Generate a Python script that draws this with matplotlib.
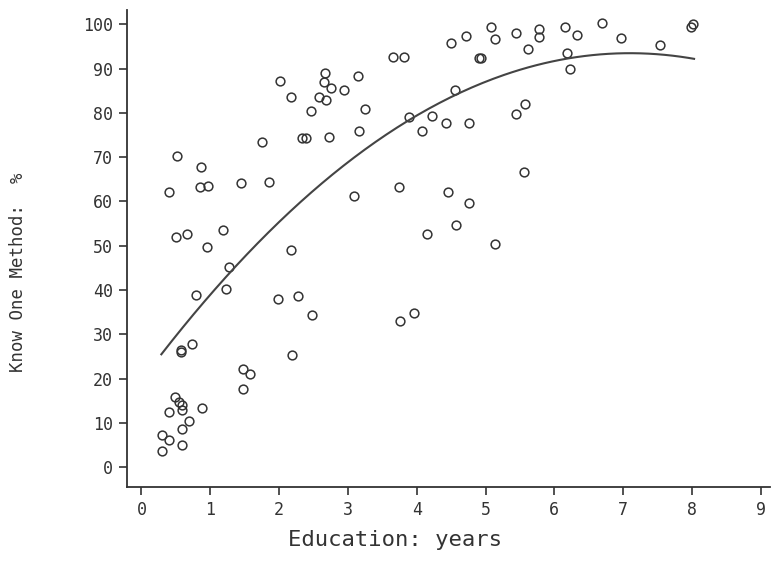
import matplotlib
matplotlib.use("Agg")
import matplotlib.pyplot as plt
import numpy as np

# ── Data ─────────────────────────────────────────────────────────────────────
edu_years = [
    0.30, 0.40, 0.30, 0.59, 0.59, 0.69, 0.40, 0.59, 0.54, 0.59, 0.49, 0.88,
    0.58, 0.58, 0.73, 1.47, 1.58, 1.47, 2.19, 0.80, 1.23, 1.27, 0.96, 0.50,
    0.66, 1.18, 0.40, 0.85, 0.97, 1.45, 1.86, 0.87, 0.52, 1.75, 1.98, 2.27,
    2.18, 2.48, 2.02, 2.17, 2.33, 2.39, 2.46, 2.58, 2.68, 2.65, 2.67, 2.76,
    2.73, 2.95, 3.15, 3.16, 3.25, 3.09, 3.65, 3.81, 3.75, 3.76, 3.96, 3.89,
    4.07, 4.22, 4.15, 4.43, 4.45, 4.50, 4.56, 4.57, 4.71, 4.76, 4.76, 4.91,
    4.93, 5.08, 5.14, 5.14, 5.44, 5.44, 5.57, 5.56, 5.62, 5.78, 5.78, 6.15,
    6.18, 6.23, 6.33, 6.69, 6.97, 7.54, 7.98, 8.02,
]
know_pct = [
    7.2, 6.1, 3.7, 5.1, 8.7, 10.5, 12.5, 12.9, 14.7, 14.0, 15.9, 13.4,
    26.4, 25.9, 27.9, 22.1, 21.0, 17.6, 25.4, 38.8, 40.3, 45.3, 49.7, 52.0,
    52.6, 53.5, 62.1, 63.3, 63.4, 64.1, 64.4, 67.8, 70.2, 73.4, 37.9, 38.7,
    49.0, 34.3, 87.3, 83.5, 74.4, 74.4, 80.4, 83.5, 82.8, 87.0, 89.1, 85.7,
    74.5, 85.1, 88.4, 75.8, 80.8, 61.2, 92.6, 92.6, 63.2, 33.1, 34.7, 79.1,
    75.8, 79.4, 52.7, 77.7, 62.1, 95.8, 85.1, 54.7, 97.4, 77.8, 59.7, 92.4,
    92.3, 99.3, 96.6, 50.3, 98.1, 79.8, 81.9, 66.7, 94.5, 98.9, 97.2, 99.3,
    93.6, 90.0, 97.7, 100.2, 96.8, 95.4, 99.5, 100.0,
]

# fitted curve
curve_x = [0.29, 1.27, 2.30, 3.46, 4.56, 6.33, 7.05, 8.03]
curve_y = [24.9, 45.0, 59.1, 73.1, 85.1, 92.4, 93.2, 92.4]

x_ticks = list(range(0, 10))
y_ticks = list(range(0, 101, 10))

INK = "#333333"
MONO = ["DejaVu Sans Mono"]

fig = plt.figure(figsize=(7.74, 5.64), dpi=100)
ax = fig.add_axes([0.164, 0.1365, 0.831, 0.8455])

ax.plot(edu_years, know_pct, linestyle="none", marker="o", markersize=6.3,
        markerfacecolor="none", markeredgecolor=INK, markeredgewidth=1.1)

# quadratic through the curve samples
coef = np.polyfit(curve_x, curve_y, 2)
xs = np.linspace(curve_x[0], curve_x[-1], 200)
ax.plot(xs, np.polyval(coef, xs), color="#444444", linewidth=1.5)

ax.set_xlim(-0.21, 9.135)
ax.set_ylim(-4.5, 103.2)
ax.set_xticks(x_ticks)
ax.set_yticks(y_ticks)

for side in ("top", "right"):
    ax.spines[side].set_visible(False)
for side in ("left", "bottom"):
    ax.spines[side].set_color(INK)
    ax.spines[side].set_linewidth(1.3)

ax.tick_params(direction="out", length=6, width=1.2, color=INK,
               labelcolor=INK, labelsize=12, pad=4)
for lab in ax.get_xticklabels() + ax.get_yticklabels():
    lab.set_family(MONO)

ax.set_xlabel("Education: years", fontsize=16, family=MONO, color=INK)
ax.xaxis.set_label_coords(0.417, -0.09)
ax.set_ylabel("Know One Method:  %", fontsize=12.5, family=MONO, color=INK)
ax.yaxis.set_label_coords(-0.155, 0.45)

fig.savefig("out.png", dpi=100)
